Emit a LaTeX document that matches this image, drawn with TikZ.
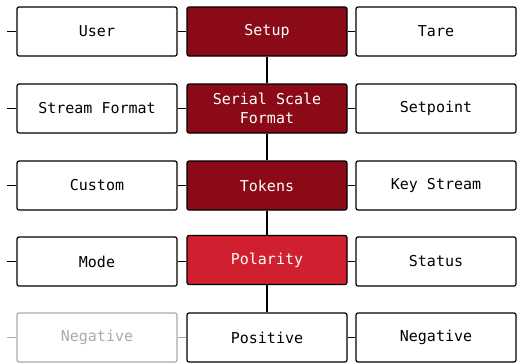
\documentclass[tikz,border=0pt]{standalone}
\usepackage{fontspec}
\newfontfamily\monofont{DejaVu Sans Mono}
\definecolor{darkred}{HTML}{8A0A18}
\definecolor{brightred}{HTML}{D02030}
\definecolor{fadegray}{HTML}{AAAAAA}
\begin{document}
\begin{tikzpicture}[x=1pt,y=-1pt,
  box/.style={draw=black,line width=1.2pt,rounded corners=2pt,minimum width=160pt,minimum height=49pt,
    inner sep=0pt,align=center,font=\monofont\fontsize{15}{19}\selectfont,fill=white,text=black},
  sel/.style={box,fill=darkred,text=white},
  act/.style={box,fill=brightred,text=white},
  faded/.style={box,draw=fadegray,text=fadegray},
  link/.style={line width=1.2pt,draw=black},
  fadelink/.style={line width=1.2pt,draw=fadegray}]
\useasboundingbox (0,0) rectangle (517,362);
% row 1
\node[box] (user) at (97,31.5) {User};
\node[sel] (setup) at (267,31.5) {Setup};
\node[box] (tare) at (436,31.5) {Tare};
% row 2
\node[box] (stream) at (97,108.5) {Stream Format};
\node[sel] (serial) at (267,108.5) {Serial Scale\\Format};
\node[box] (setpoint) at (436,108.5) {Setpoint};
% row 3
\node[box] (custom) at (97,185.5) {Custom};
\node[sel] (tokens) at (267,185.5) {Tokens};
\node[box] (keystream) at (436,185.5) {Key Stream};
% row 4
\node[box] (mode) at (97,261.5) {Mode};
\node[act] (polarity) at (267,260) {Polarity};
\node[box] (status) at (436,261.5) {Status};
% row 5
\node[faded] (negl) at (97,337.5) {Negative};
\node[box] (positive) at (267,337.5) {Positive};
\node[box] (negr) at (436,337.5) {Negative};
% stubs
\coordinate (s1) at (7,31.5);
\coordinate (s2) at (7,108.5);
\coordinate (s3) at (7,185.5);
\coordinate (s4) at (7,261.5);
\coordinate (s5) at (7,337.5);
\draw[link] (s1) -- (user.west);
\draw[link] (s2) -- (stream.west);
\draw[link] (s3) -- (custom.west);
\draw[link] (s4) -- (mode.west);
\draw[fadelink] (s5) -- (negl.west);
% horizontal connectors
\draw[link] (user.east) -- (setup.west);
\draw[link] (setup.east) -- (tare.west);
\draw[link] (stream.east) -- (serial.west);
\draw[link] (serial.east) -- (setpoint.west);
\draw[link] (custom.east) -- (tokens.west);
\draw[link] (tokens.east) -- (keystream.west);
\draw[link] (mode.east) -- (polarity.west |- mode.east);
\draw[link] (polarity.east |- status.west) -- (status.west);
\draw[fadelink] (negl.east) -- (positive.west);
\draw[link] (positive.east) -- (negr.west);
% vertical spine
\draw[link] (setup.south) -- (serial.north);
\draw[link] (serial.south) -- (tokens.north);
\draw[link] (tokens.south) -- (polarity.north);
\draw[link] (polarity.south) -- (positive.north);
\end{tikzpicture}
\end{document}
